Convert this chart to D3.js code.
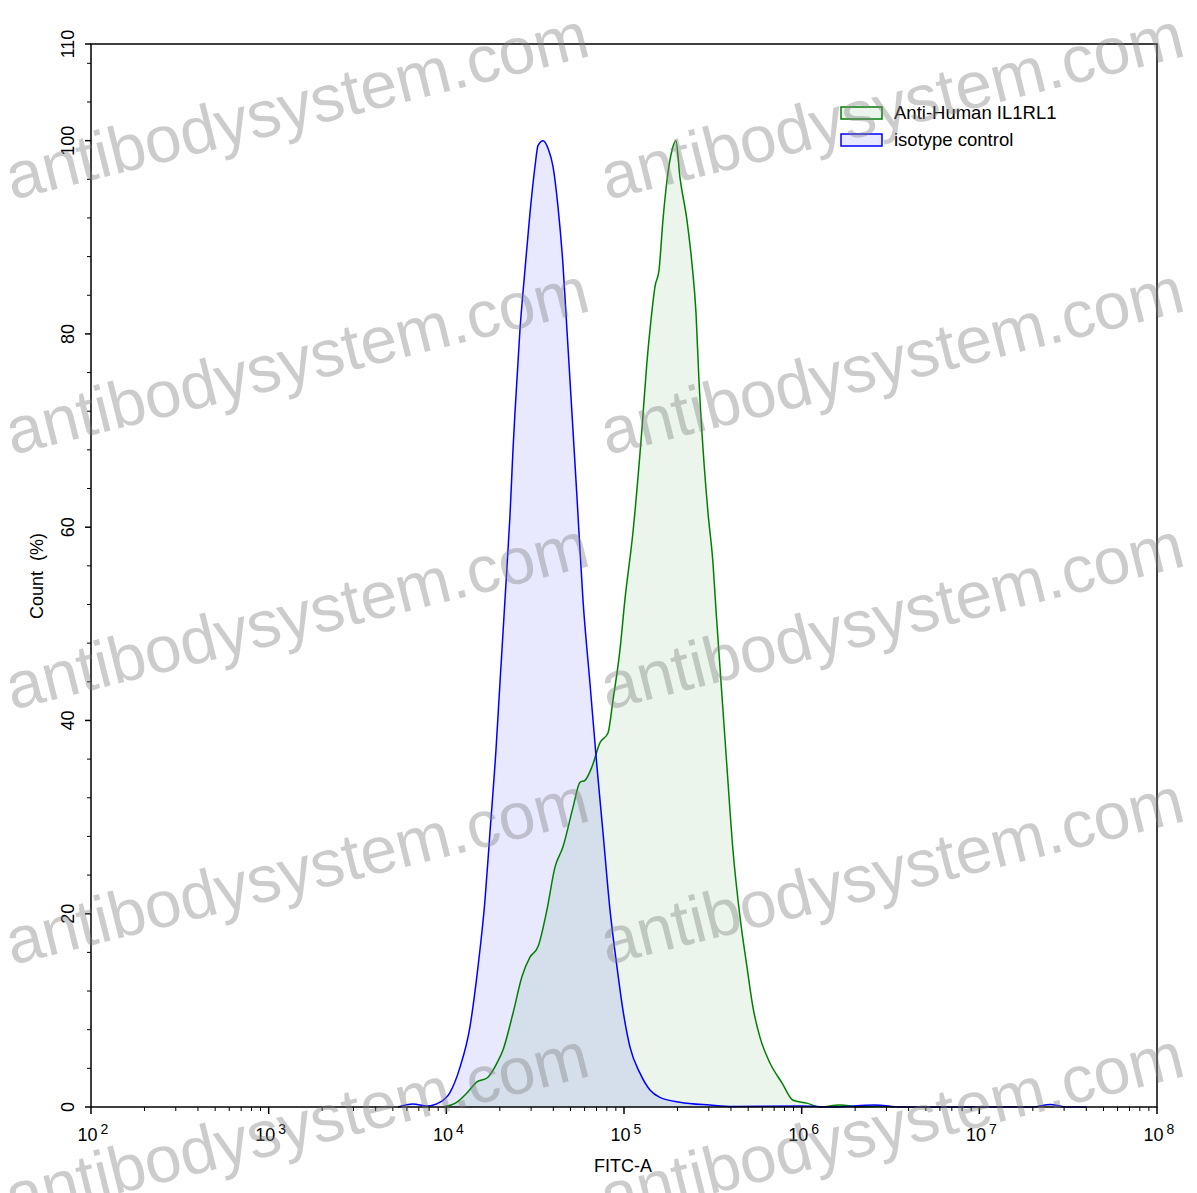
<!DOCTYPE html>
<html><head><meta charset="utf-8">
<script src="https://cdn.jsdelivr.net/npm/d3@7/dist/d3.min.js"></script>
<style>html,body{margin:0;padding:0;background:#fff;}svg{display:block;font-family:"Liberation Sans",Arial,sans-serif;}</style>
</head><body>
<svg id="c" width="1197" height="1193"></svg>
<script>
// ---- data ----
const isoX = [5350,6490,7780,9210,10480,11930,13580,15070,16500,17600,19020,20040,20830,21940,22800,23720,24330,25960,27700,29560,31540,32820,35020,37370,39870,42540,45300,47750,50950,54370,58750,64300,70450,76170,83400,91300,98700,108100,123000,140000,159200,206500,304600,410400,977000,1500000,2580000,3600000,20000000,25000000,31000000,40000000];
const isoY = [0,0.3,0.1,0.5,1.5,4.1,8.3,14.5,21.4,28.4,36.9,43.9,49.0,55.9,61.1,68.0,71.8,80.4,86.6,92.5,97.3,99.5,100,99.2,97.3,93.1,87.3,80.4,71.8,63.1,52.5,43.9,35.2,28.4,20.4,14.5,10.0,6.2,3.5,1.76,1.0,0.5,0.2,0.05,0.1,0,0.2,0,0,0.25,0,0];
const antiX = [9570,11480,13060,14870,16930,19270,20840,23720,26660,29560,32820,36830,40850,45300,51640,56500,60300,66000,73250,81240,86700,94900,101200,112200,126100,134500,141800,149400,157400,165700,174600,186200,196000,206500,226000,241200,254200,264200,278100,297000,316800,329500,346900,379700,410400,449500,492200,532100,582700,663100,774700,893600,1070000,1270000,1640000,2130000,2750000,3300000];
const antiY = [0,0.5,1.45,2.6,3.0,4.55,5.9,9.7,13.5,15.5,16.6,20.4,24.8,26.9,31.0,33.6,33.8,35.2,37.7,38.7,42.1,47.3,52.5,59.4,70.1,77.0,81.4,84.9,86.6,91.8,95.9,99.0,100,96.2,91.8,87.3,82.2,75.2,68.3,61.5,56.3,51.4,45.5,35.2,26.6,19.7,14.5,10.3,7.2,4.55,2.5,0.7,0.4,0,0.2,0,0.1,0];
const seriesNames = ["Anti-Human IL1RL1","isotype control"];
const xDomain = [1e2,1e8];
const yDomain = [0,110];
const yTickLabels = [0,20,40,60,80,100,110];
const xTitle = "FITC-A";
const yTitle = "Count  (%)";
const watermark = "antibodysystem.com";

// ---- layout ----
const L=91, R=1157, T=44, B=1107;
const svg = d3.select("#c");
const x = d3.scaleLog().domain(xDomain).range([L,R]);
const y = d3.scaleLinear().domain(yDomain).range([B,T]);

const iso = isoX.map((v,i)=>[v,isoY[i]]);
const anti = antiX.map((v,i)=>[v,antiY[i]]);

const area = d3.area().x(d=>x(d[0])).y0(y(0)).y1(d=>y(d[1])).curve(d3.curveMonotoneX);
const line = d3.line().x(d=>x(d[0])).y(d=>y(d[1])).curve(d3.curveMonotoneX);

const blueFill="rgba(0,0,255,0.09)", greenFill="rgba(0,128,0,0.08)";
svg.append("path").attr("d",area(iso)).attr("fill",blueFill);
svg.append("path").attr("d",area(anti)).attr("fill",greenFill);
svg.append("path").attr("d",line(anti)).attr("fill","none").attr("stroke","#008000").attr("stroke-width",1.5);
svg.append("path").attr("d",line(iso)).attr("fill","none").attr("stroke","#0000ff").attr("stroke-width",1.5);

// frame
const ax = svg.append("g").attr("stroke","#000").attr("stroke-width",1.5);
ax.append("rect").attr("x",L).attr("y",T).attr("width",R-L).attr("height",B-T).attr("fill","none");

// x ticks
x.ticks().forEach(t=>{
  const lg=Math.log10(t); const major=Math.abs(lg-Math.round(lg))<1e-9;
  ax.append("line").attr("x1",x(t)).attr("x2",x(t)).attr("y1",B).attr("y2",B+(major?7:4)).attr("stroke-width",major?1.5:1);
});
// y ticks
const yt = d3.range(0,110,4).concat([110]);
yt.forEach(t=>{
  const major = yTickLabels.includes(t);
  ax.append("line").attr("y1",y(t)).attr("y2",y(t)).attr("x1",L).attr("x2",L-(major?6:4)).attr("stroke-width",major?1.5:1);
});

// x labels
x.ticks().filter(t=>Math.abs(Math.log10(t)-Math.round(Math.log10(t)))<1e-9).forEach(t=>{
  const tx = svg.append("text").attr("x",x(t)+2).attr("y",1141).attr("text-anchor","middle").attr("font-size",18).attr("fill","#000");
  tx.append("tspan").text("10");
  tx.append("tspan").attr("dx",3).attr("dy",-7).attr("font-size",14).text(Math.round(Math.log10(t)));
});
// y labels
yTickLabels.forEach(t=>{
  svg.append("text").attr("transform",`translate(74,${y(t)}) rotate(-90)`).attr("text-anchor","middle").attr("font-size",18).attr("fill","#000").text(t);
});
// titles
svg.append("text").attr("x",623).attr("y",1172).attr("text-anchor","middle").attr("font-size",18).text(xTitle);
svg.append("text").attr("transform",`translate(43,${576}) rotate(-90)`).attr("text-anchor","middle").attr("font-size",18).style("white-space","pre").text(yTitle);

// legend
const leg=[{n:seriesNames[0],s:"#008000",f:greenFill},{n:seriesNames[1],s:"#0000ff",f:blueFill}];
leg.forEach((d,i)=>{
  const yy=107+i*27;
  svg.append("rect").attr("x",841).attr("y",yy).attr("width",41).attr("height",12).attr("fill",d.f).attr("stroke",d.s).attr("stroke-width",1.5);
  svg.append("text").attr("x",894).attr("y",yy+12).attr("font-size",18.5).text(d.n);
});

// watermark
const wm = svg.append("g").attr("fill","#808080").attr("fill-opacity",0.4).attr("font-size",66);
[12,607].forEach(cx=>{
  [200,455,710,965,1220].forEach(cy=>{
    wm.append("text").attr("transform",`translate(${cx},${cy}) rotate(-14)`).attr("textLength",598).text(watermark);
  });
});
</script>
</body></html>
